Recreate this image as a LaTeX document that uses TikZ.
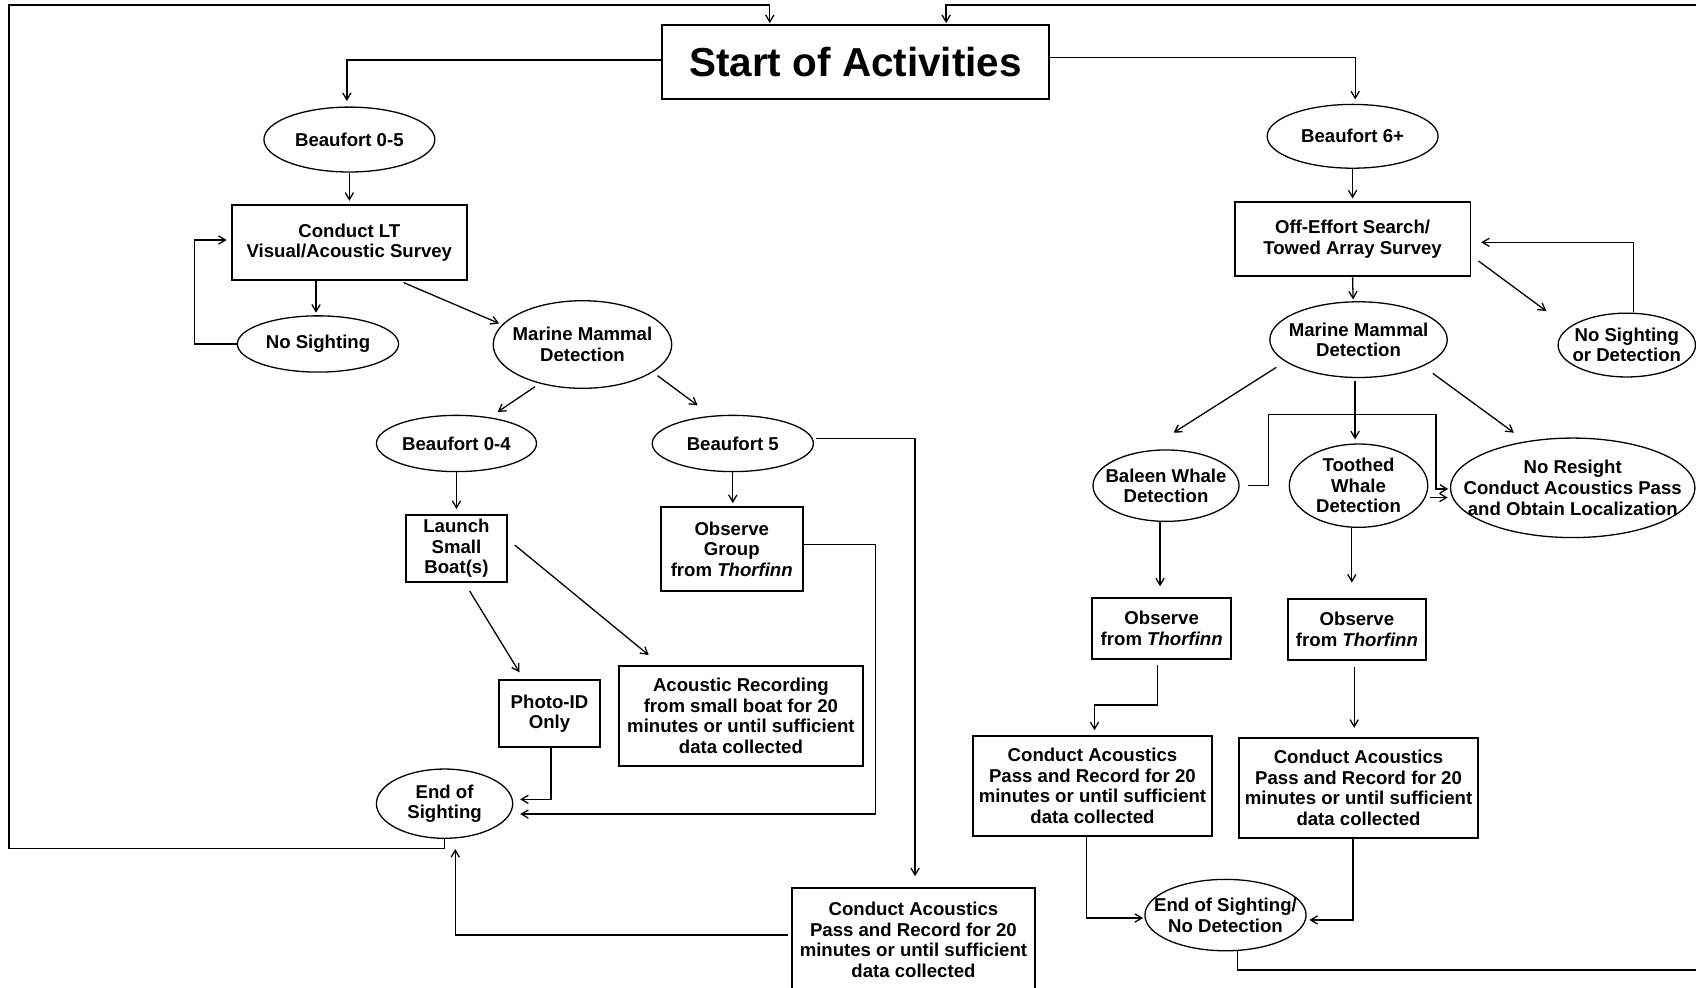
\documentclass[tikz,border=0pt]{standalone}
\usepackage{fontspec}
\newfontfamily\flowfont{Liberation Sans}
\usetikzlibrary{shapes.geometric,arrows.meta}
\newcommand\nodefnt{\flowfont\bfseries\fontsize{8.6}{9.5}\selectfont}
\begin{document}
\begin{tikzpicture}[x=0.5pt,y=-0.5pt,
  ln/.style={line width=0.6pt, draw=black},
  arr/.style={ln, -{Straight Barb[length=3.2pt,width=3.8pt]}},
  txt/.style={align=center, font=\nodefnt, inner sep=0pt, text=black},
  ell/.style={draw, ellipse, line width=0.6pt, inner sep=0pt},
  bx/.style={draw, rectangle, line width=0.9pt, inner sep=0pt, align=center, font=\nodefnt},
  lab/.style={label={[txt]center:{#1}}},
]
\useasboundingbox (0,0) rectangle (1568,912.5);
\clip (0,0) rectangle (1568,912.5);

% ---------- nodes ----------
\node[bx, minimum width=179pt, minimum height=34.25pt,
      font=\flowfont\bfseries\fontsize{18.7}{20}\selectfont] (start) at (791,57.3) {Start of Activities};

% left branch: calm sea
\node[ell, minimum width=79pt, minimum height=30pt, lab={Beaufort 0-5}] (b05) at (323,129) {};
\node[bx, minimum width=108.5pt, minimum height=34.7pt] (lt) at (323,224.2) {Conduct LT\\Visual/Acoustic Survey};
\node[ell, minimum width=74.5pt, minimum height=26pt, lab={No Sighting}] (nos) at (294,318) {};
\node[ell, minimum width=82.5pt, minimum height=40.5pt, lab={Marine Mammal\\Detection}] (mmdL) at (538.5,318.5) {};
\node[ell, minimum width=74pt, minimum height=26pt, lab={Beaufort 0-4}] (b04) at (422,410) {};
\node[ell, minimum width=74.5pt, minimum height=26pt, lab={Beaufort 5}] (b5) at (677.5,410) {};
\node[bx, minimum width=47pt, minimum height=31pt] (launch) at (422,507) {Launch\\Small\\Boat(s)};
\node[bx, minimum width=65.5pt, minimum height=39pt] (obsG) at (676.5,507.5) {Observe\\Group\\from \textit{Thorfinn}};
\node[bx, minimum width=47pt, minimum height=31pt] (photo) at (508,660) {Photo-ID\\Only};
\node[bx, minimum width=112.5pt, minimum height=46.5pt] (acrec) at (685,662) {Acoustic Recording\\from small boat for 20\\minutes or until sufficient\\data collected};
\node[ell, minimum width=63pt, minimum height=32pt, lab={End of\\Sighting}] (eosL) at (411,743) {};
\node[bx, minimum width=112.5pt, minimum height=48pt] (caB) at (844.5,869) {Conduct Acoustics\\Pass and Record for 20\\minutes or until sufficient\\data collected};

% right branch: rough sea
\node[ell, minimum width=79pt, minimum height=29.5pt, lab={Beaufort 6+}] (b6) at (1250.5,126) {};
\node[bx, minimum width=109pt, minimum height=34.5pt] (off) at (1250.5,221) {Off-Effort Search/\\Towed Array Survey};
\node[ell, minimum width=82pt, minimum height=35pt, lab={Marine Mammal\\Detection}] (mmdR) at (1256,314) {};
\node[ell, minimum width=63.5pt, minimum height=29.5pt, lab={No Sighting\\or Detection}] (nsd) at (1504,319) {};
\node[ell, minimum width=67.5pt, minimum height=33pt, lab={Baleen Whale\\Detection}] (baleen) at (1078,449) {};
\node[ell, minimum width=64pt, minimum height=38.5pt, lab={Toothed\\Whale\\Detection}] (toothed) at (1256,449) {};
\node[ell, minimum width=113pt, minimum height=46pt, lab={No Resight\\Conduct Acoustics Pass\\and Obtain Localization}] (noresight) at (1454,451) {};
\node[bx, minimum width=64pt, minimum height=28.5pt] (obsBal) at (1074,581) {Observe\\from \textit{Thorfinn}};
\node[bx, minimum width=64pt, minimum height=28pt] (obsToo) at (1254.5,582) {Observe\\from \textit{Thorfinn}};
\node[bx, minimum width=110.5pt, minimum height=46pt] (caBal) at (1010,726.5) {Conduct Acoustics\\Pass and Record for 20\\minutes or until sufficient\\data collected};
\node[bx, minimum width=110.5pt, minimum height=46pt] (caToo) at (1256,728.5) {Conduct Acoustics\\Pass and Record for 20\\minutes or until sufficient\\data collected};
\node[ell, minimum width=74.5pt, minimum height=33pt, lab={End of Sighting/\\No Detection}] (eosR) at (1133,846) {};

% corners of the two return loops
\coordinate (lpBL) at (8.3,784.3);
\coordinate (lpTL) at (8.3,4.6);
\coordinate (lpBR) at (1569,896.8);
\coordinate (lpTR) at (1569,4.6);

% ---------- connectors, left ----------
\draw[arr] ([yshift=0.9pt]start.west) -| ([xshift=-1.15pt,yshift=2.5pt]b05.north);
\draw[arr] (b05.south) -- ([yshift=1.5pt]lt.north);
\draw[arr] ([xshift=-15.4pt]lt.south) -- ([xshift=-0.9pt,yshift=1.15pt]nos.north);
\draw[arr] (nos.west) -- ++(-39,0) |- ([xshift=-2pt,yshift=1.15pt]lt.west);
\draw[arr] ([xshift=25.15pt,yshift=-0.75pt]lt.south) -- ([xshift=3pt,yshift=9.75pt]mmdL.west);
\draw[arr] ([xshift=-21.95pt,yshift=1.05pt]mmdL.south) -- ([xshift=19pt,yshift=1.25pt]b04.north);
\draw[arr] ([xshift=34.7pt,yshift=6.15pt]mmdL.south) -- ([xshift=-16.25pt,yshift=4.3pt]b5.north);
\draw[arr] (b04.south) -- ([yshift=2.25pt]launch.north);
\draw[arr] (b5.south) -- ([xshift=0.5pt,yshift=1.25pt]obsG.north);
\draw[arr] ([xshift=1.1pt,yshift=2.35pt]b5.east) -| ([xshift=0.75pt,yshift=5pt]caB.north);
\draw[arr] ([xshift=6.1pt,yshift=-3.75pt]launch.south) -- ([xshift=-13.85pt,yshift=3.25pt]photo.north);
\draw[arr] ([xshift=3pt,yshift=1.55pt]launch.east) -- ([xshift=-42.65pt,yshift=4.5pt]acrec.north);
\draw[arr] ([xshift=0.75pt]photo.south) |- ([xshift=3.15pt,yshift=2pt]eosL.east);
\draw[arr] ([yshift=2.1pt]obsG.east) -- ++(66.3,0) |- ([xshift=3.15pt,yshift=-4.8pt]eosL.east);
\draw[arr] ([xshift=-1.1pt,yshift=2.25pt]caB.west) -| ([xshift=4.95pt,yshift=-4.65pt]eosL.south);
\draw[arr] (eosL.south) |- (lpBL) -- (lpTL) -| ([xshift=50.3pt,yshift=0.4pt]start.north west);

% ---------- connectors, right ----------
\draw[arr] ([yshift=2.15pt]start.east) -| ([xshift=1.2pt,yshift=2pt]b6.north);
\draw[arr] (b6.south) -- ([yshift=1.1pt]off.north);
\draw[arr] (off.south) -- ([xshift=-2.5pt,yshift=0.8pt]mmdR.north);
\draw[arr] ([xshift=3.25pt,yshift=-10.15pt]off.east) -- ([xshift=-37.2pt,yshift=0.65pt]nsd.north);
\draw[arr] ([xshift=3.2pt]nsd.north) |- ([xshift=4.5pt,yshift=-1.5pt]off.east);
\draw[arr] ([xshift=-38pt,yshift=5pt]mmdR.south) -- ([xshift=3.5pt,yshift=7.7pt]baleen.north);
\draw[arr] ([xshift=-1.6pt,yshift=-1.5pt]mmdR.south) -- ([xshift=-1.6pt,yshift=1.85pt]toothed.north);
\draw[arr] ([xshift=34.35pt,yshift=2.2pt]mmdR.south) -- ([xshift=-27.2pt,yshift=2.2pt]noresight.north);
\draw[arr] ([xshift=4pt]baleen.east) -- ++(18.6,0) |- ++(154.8,-65.7) |- ([xshift=-0.75pt,yshift=-0.5pt]noresight.west);
\draw[arr] ([xshift=0.5pt,yshift=-5.5pt]toothed.east) -- ([xshift=-1pt,yshift=-4.5pt]noresight.west);
\draw[arr] ([xshift=-2.75pt]baleen.south) -- ([xshift=-0.75pt,yshift=4.75pt]obsBal.north);
\draw[arr] ([xshift=-3.1pt]toothed.south) -- ([xshift=-2.35pt,yshift=7.25pt]obsToo.north);
\draw[arr] ([xshift=-2pt,yshift=-2.25pt]obsBal.south) -- ++(0,37) -| ([xshift=0.95pt,yshift=2.25pt]caBal.north);
\draw[arr] ([xshift=-1.25pt,yshift=-3pt]obsToo.south) -- ([xshift=-2pt,yshift=4.35pt]caToo.north);
\draw[arr] ([xshift=-2.6pt]caBal.south) |- ([xshift=-0.55pt,yshift=-1.35pt]eosR.west);
\draw[arr] ([xshift=-2.5pt]caToo.south) |- ([xshift=1.25pt,yshift=-2.25pt]eosR.east);
\draw[arr] ([xshift=5.6pt]eosR.south) |- (lpBR) -- (lpTR) -| ([xshift=131.8pt,yshift=0.4pt]start.north west);
\end{tikzpicture}
\end{document}
